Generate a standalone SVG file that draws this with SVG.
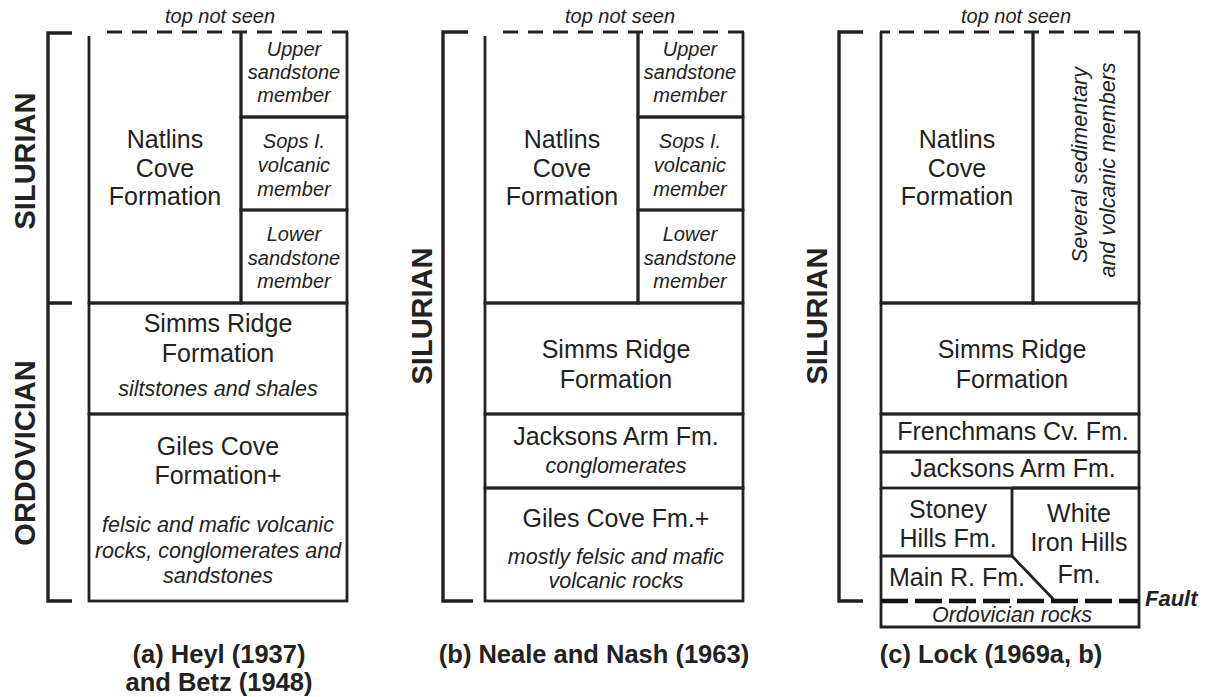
<svg xmlns="http://www.w3.org/2000/svg" width="1207" height="697" viewBox="0 0 1207 697">
<style>
.ln{stroke:#222;stroke-width:2.8;fill:none}
.br{stroke:#222;stroke-width:3.4;fill:none}
.dash{stroke:#222;stroke-width:3;fill:none;stroke-linecap:butt}
.fault{stroke:#111;stroke-width:4.5;fill:none}
.t{font-family:"Liberation Sans",Arial,sans-serif;fill:#222;text-anchor:middle}
.f25{font-size:25px}
.mem{font-size:20px;font-style:italic}
.desc{font-size:21.5px;font-style:italic}
.top{font-size:20px;font-style:italic}
.era{font-size:29px;font-weight:bold}
.cap{font-size:25.5px;font-weight:bold}
.flt{font-size:22px;font-weight:bold;font-style:italic;text-anchor:start}
</style>
<rect width="1207" height="697" fill="#fff"/>

<!-- ===== Column (a) ===== -->
<g id="col-a">
  <g id="brackets-a">
    <path class="br" d="M72,33 H48 V601 H72 M48,303 H72"/>
    <text class="t era" transform="translate(35,161) rotate(-90)">SILURIAN</text>
    <text class="t era" transform="translate(35,453) rotate(-90)">ORDOVICIAN</text>
  </g>
  <g id="top-a">
    <path class="dash" d="M332,32H348 M307,32H322 M282,32H297 M257,32H272 M232,32H247 M207,32H222 M182,32H197 M157,32H172 M132,32H147 M107,32H122"/>
    <text class="t top" x="220" y="23">top not seen</text>
  </g>
  <g id="natlins-a">
    <path class="ln" d="M89,36 V303 H241 V32"/>
    <text class="t f25" x="165" y="148">Natlins</text>
    <text class="t f25" x="165" y="177">Cove</text>
    <text class="t f25" x="165" y="205">Formation</text>
  </g>
  <g id="upper-a">
    <path class="ln" d="M241,32 V117 H347 V32"/>
    <text class="t mem" x="294" y="56">Upper</text>
    <text class="t mem" x="294" y="79">sandstone</text>
    <text class="t mem" x="294" y="102">member</text>
  </g>
  <g id="sops-a">
    <rect class="ln" x="241" y="117" width="106" height="93"/>
    <text class="t mem" x="294" y="148">Sops I.</text>
    <text class="t mem" x="294" y="172">volcanic</text>
    <text class="t mem" x="294" y="196">member</text>
  </g>
  <g id="lower-a">
    <rect class="ln" x="241" y="210" width="106" height="93"/>
    <text class="t mem" x="294" y="241">Lower</text>
    <text class="t mem" x="294" y="265">sandstone</text>
    <text class="t mem" x="294" y="288">member</text>
  </g>
  <g id="simms-a">
    <rect class="ln" x="89" y="303" width="258" height="111"/>
    <text class="t f25" x="218" y="332">Simms Ridge</text>
    <text class="t f25" x="218" y="362">Formation</text>
    <text class="t desc" x="218" y="396">siltstones and shales</text>
  </g>
  <g id="giles-a">
    <rect class="ln" x="89" y="414" width="258" height="187"/>
    <text class="t f25" x="218" y="455">Giles Cove</text>
    <text class="t f25" x="218" y="484">Formation+</text>
    <text class="t desc" x="218" y="532">felsic and mafic volcanic</text>
    <text class="t desc" x="218" y="558">rocks, conglomerates and</text>
    <text class="t desc" x="218" y="583">sandstones</text>
  </g>
  <g id="caption-a">
    <text class="t cap" x="219" y="663">(a) Heyl (1937)</text>
    <text class="t cap" x="219" y="691">and Betz (1948)</text>
  </g>
</g>

<!-- ===== Column (b) ===== -->
<g id="col-b">
  <g id="brackets-b">
    <path class="br" d="M468,32 H443 V601 H473"/>
    <text class="t era" transform="translate(432,316) rotate(-90)">SILURIAN</text>
  </g>
  <g id="top-b">
    <path class="dash" d="M728,32H744 M703,32H718 M678,32H693 M653,32H668 M628,32H643 M603,32H618 M578,32H593 M553,32H568 M528,32H543 M503,32H518"/>
    <text class="t top" x="620" y="23">top not seen</text>
  </g>
  <g id="natlins-b">
    <path class="ln" d="M485,36 V303 H638 V32"/>
    <text class="t f25" x="562" y="148">Natlins</text>
    <text class="t f25" x="562" y="177">Cove</text>
    <text class="t f25" x="562" y="205">Formation</text>
  </g>
  <g id="upper-b">
    <path class="ln" d="M638,32 V117 H743 V32"/>
    <text class="t mem" x="690" y="56">Upper</text>
    <text class="t mem" x="690" y="79">sandstone</text>
    <text class="t mem" x="690" y="102">member</text>
  </g>
  <g id="sops-b">
    <rect class="ln" x="638" y="117" width="105" height="93"/>
    <text class="t mem" x="690" y="148">Sops I.</text>
    <text class="t mem" x="690" y="172">volcanic</text>
    <text class="t mem" x="690" y="196">member</text>
  </g>
  <g id="lower-b">
    <rect class="ln" x="638" y="210" width="105" height="93"/>
    <text class="t mem" x="690" y="241">Lower</text>
    <text class="t mem" x="690" y="265">sandstone</text>
    <text class="t mem" x="690" y="288">member</text>
  </g>
  <g id="simms-b">
    <rect class="ln" x="485" y="303" width="258" height="111"/>
    <text class="t f25" x="616" y="358">Simms Ridge</text>
    <text class="t f25" x="616" y="388">Formation</text>
  </g>
  <g id="jacksons-b">
    <rect class="ln" x="485" y="414" width="258" height="74"/>
    <text class="t f25" x="616" y="445">Jacksons Arm Fm.</text>
    <text class="t desc" x="616" y="473">conglomerates</text>
  </g>
  <g id="giles-b">
    <rect class="ln" x="485" y="488" width="258" height="113"/>
    <text class="t f25" x="616" y="527">Giles Cove Fm.+</text>
    <text class="t desc" x="616" y="564">mostly felsic and mafic</text>
    <text class="t desc" x="616" y="588">volcanic rocks</text>
  </g>
  <g id="caption-b">
    <text class="t cap" x="594" y="663">(b) Neale and Nash (1963)</text>
  </g>
</g>

<!-- ===== Column (c) ===== -->
<g id="col-c">
  <g id="brackets-c">
    <path class="br" d="M863,32 H839 V601 H863"/>
    <text class="t era" transform="translate(827,316) rotate(-90)">SILURIAN</text>
  </g>
  <g id="top-c">
    <path class="dash" d="M1124,32H1140 M1099,32H1114 M1074,32H1089 M1049,32H1064 M1024,32H1039 M999,32H1014 M974,32H989 M949,32H964 M924,32H939 M899,32H914 M880,32H890"/>
    <text class="t top" x="1016" y="23">top not seen</text>
  </g>
  <g id="natlins-c">
    <path class="ln" d="M881,32 V303 H1033 V32"/>
    <text class="t f25" x="957" y="148">Natlins</text>
    <text class="t f25" x="957" y="177">Cove</text>
    <text class="t f25" x="957" y="205">Formation</text>
  </g>
  <g id="members-c">
    <path class="ln" d="M1033,32 V303 H1139 V32"/>
    <text class="t desc" transform="translate(1087,165) rotate(-90)">Several sedimentary</text>
    <text class="t desc" transform="translate(1115,170) rotate(-90)">and volcanic members</text>
  </g>
  <g id="simms-c">
    <rect class="ln" x="881" y="303" width="258" height="111"/>
    <text class="t f25" x="1012" y="358">Simms Ridge</text>
    <text class="t f25" x="1012" y="388">Formation</text>
  </g>
  <g id="frenchmans-c">
    <rect class="ln" x="881" y="414" width="258" height="38"/>
    <text class="t f25" x="1013" y="440">Frenchmans Cv. Fm.</text>
  </g>
  <g id="jacksons-c">
    <rect class="ln" x="881" y="452" width="258" height="36"/>
    <text class="t f25" x="1013" y="477">Jacksons Arm Fm.</text>
  </g>
  <g id="stoney-c">
    <path class="ln" d="M881,488 V556 H1012 V488"/>
    <text class="t f25" x="948" y="518">Stoney</text>
    <text class="t f25" x="948" y="547">Hills Fm.</text>
  </g>
  <g id="white-c">
    <path class="ln" d="M1012,488 H1139 V601 M1012,556 L1055,601"/>
    <text class="t f25" x="1079" y="522">White</text>
    <text class="t f25" x="1079" y="551">Iron Hills</text>
    <text class="t f25" x="1079" y="583">Fm.</text>
  </g>
  <g id="main-c">
    <path class="ln" d="M881,556 V601"/>
    <text class="t f25" x="957" y="586">Main R. Fm.</text>
  </g>
  <g id="fault-c">
    <path class="fault" stroke-dasharray="27,7" d="M881,601 H1139"/>
    <text class="t flt" x="1145" y="606">Fault</text>
  </g>
  <g id="ordovician-c">
    <path class="ln" d="M881,601 V627 H1139 V601"/>
    <text class="t desc" x="1012" y="622">Ordovician rocks</text>
  </g>
  <g id="caption-c">
    <text class="t cap" x="991" y="663">(c) Lock (1969a, b)</text>
  </g>
</g>
</svg>
